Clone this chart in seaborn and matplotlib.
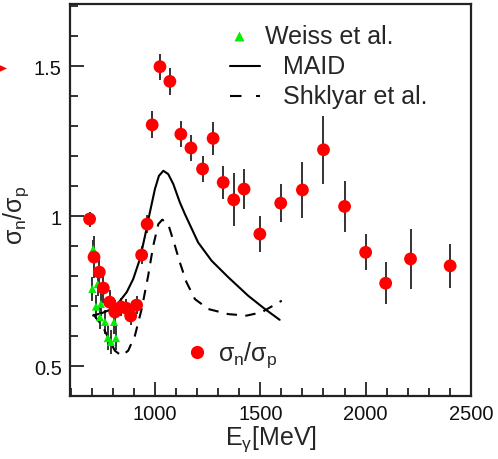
import matplotlib
matplotlib.use("Agg")
import matplotlib.pyplot as plt
from matplotlib.lines import Line2D
from matplotlib.patches import Polygon
from matplotlib.ticker import MultipleLocator, FixedLocator
import seaborn as sns
import pandas as pd

# sigma_n / sigma_p ratio (this work)
ratio_E = [690, 711, 736, 755, 785, 810, 839, 863, 885, 913, 937, 963,
           987, 1024, 1071, 1123, 1171, 1226, 1276, 1324, 1374, 1423, 1498,
           1597, 1700, 1800, 1900, 2000, 2095, 2213, 2401]
ratio_val = [0.99, 0.863, 0.813, 0.76, 0.713, 0.68, 0.697, 0.693, 0.667, 0.703, 0.87, 0.973,
             1.304, 1.498, 1.449, 1.273, 1.227, 1.157, 1.259, 1.112, 1.054, 1.09, 0.94,
             1.043, 1.087, 1.221, 1.032, 0.879, 0.776, 0.857, 0.834]
ratio_err = [0.025, 0.07, 0.05, 0.05, 0.04, 0.04, 0.03, 0.03, 0.03, 0.03, 0.03, 0.03,
             0.045, 0.043, 0.044, 0.043, 0.042, 0.043, 0.054, 0.056, 0.088, 0.068, 0.06,
             0.064, 0.093, 0.114, 0.086, 0.06, 0.07, 0.1, 0.073]

# Weiss et al.
weiss_E = [707, 703, 728, 720, 744, 739, 763, 776, 791, 806, 815]
weiss_val = [0.89, 0.757, 0.773, 0.698, 0.707, 0.663, 0.647, 0.593, 0.58, 0.647, 0.593]
weiss_err = [0.03, 0.04, 0.04, 0.04, 0.04, 0.04, 0.04, 0.04, 0.04, 0.04, 0.04]

# MAID prediction
maid_E = [707, 750, 797, 826, 866, 897, 929, 953, 976, 1000, 1019, 1040, 1063,
          1087, 1118, 1142, 1205, 1269, 1348, 1443, 1522, 1592]
maid_val = [0.668, 0.677, 0.69, 0.71, 0.746, 0.79, 0.857, 0.934, 1.012, 1.09, 1.134, 1.151,
            1.14, 1.107, 1.046, 1.007, 0.912, 0.851, 0.796, 0.734, 0.69, 0.654]

# Shklyar et al. prediction
shk_E = [707, 750, 782, 810, 842, 873, 905, 937, 968, 992, 1016, 1035, 1063,
         1095, 1118, 1150, 1190, 1253, 1348, 1435, 1506, 1602]
shk_val = [0.673, 0.634, 0.59, 0.551, 0.534, 0.551, 0.601, 0.69, 0.801, 0.901, 0.973, 0.988,
           0.973, 0.901, 0.846, 0.779, 0.723, 0.69, 0.673, 0.668, 0.679, 0.718]

sns.set_style("ticks")
plt.rcParams["font.family"] = ["Liberation Sans", "DejaVu Sans"]
plt.rcParams["mathtext.fontset"] = "custom"
plt.rcParams["mathtext.rm"] = "Liberation Sans"
plt.rcParams["mathtext.it"] = "Liberation Sans"

fig = plt.figure(figsize=(4.98, 4.60), dpi=100)
ax = fig.add_axes([70 / 498, 63 / 460, 401 / 498, 392 / 460])

df_ratio = pd.DataFrame({"E": ratio_E, "r": ratio_val, "err": ratio_err})
df_weiss = pd.DataFrame({"E": weiss_E, "r": weiss_val, "err": weiss_err})
df_maid = pd.DataFrame({"E": maid_E, "r": maid_val})
df_shk = pd.DataFrame({"E": shk_E, "r": shk_val})

errc = "#333333"
ax.errorbar(df_weiss["E"], df_weiss["r"], yerr=df_weiss["err"], fmt="none",
            ecolor=errc, elinewidth=1.4, capsize=0, zorder=2)
ax.errorbar(df_ratio["E"], df_ratio["r"], yerr=df_ratio["err"], fmt="none",
            ecolor=errc, elinewidth=1.4, capsize=0, zorder=2)

sns.lineplot(data=df_maid, x="E", y="r", ax=ax, color="black", lw=1.5,
             sort=False, zorder=3)
sns.lineplot(data=df_shk, x="E", y="r", ax=ax, color="black", lw=1.5,
             sort=False, zorder=3)
ax.lines[-1].set_dashes([5, 4])

sns.scatterplot(data=df_weiss, x="E", y="r", ax=ax, marker="^", s=34,
                color="#00ee00", edgecolor="none", zorder=4)
sns.scatterplot(data=df_ratio, x="E", y="r", ax=ax, marker="o", s=85,
                color="#ff0000", edgecolor="none", zorder=5)

ax.set_xlim(597, 2500)
ax.set_ylim(0.4, 1.707)
ax.xaxis.set_major_locator(FixedLocator([1000, 1500, 2000, 2500]))
ax.xaxis.set_minor_locator(MultipleLocator(250))
ax.yaxis.set_major_locator(FixedLocator([0.5, 1.0, 1.5]))
ax.yaxis.set_minor_locator(MultipleLocator(0.1))
ax.set_xticklabels(["1000", "1500", "2000", "2500"])
ax.set_yticklabels(["0.5", "1", "1.5"])
ax.tick_params(which="both", direction="in", top=False, right=False,
               color="#222222", labelcolor="#111111", width=1.3)
ax.tick_params(which="major", length=10, labelsize=14.5, pad=6)
ax.tick_params(which="minor", length=5.5)
ax.minorticks_on()
for s in ax.spines.values():
    s.set_linewidth(1.6)
    s.set_color("#222222")
    s.set_visible(True)

ax.set_xlabel(r"E$_{\rm \gamma}$[MeV]", fontsize=18)
ax.xaxis.set_label_coords(0.5, -0.07)
ax.set_ylabel(r"$\sigma_{\rm n}/\sigma_{\rm p}$", fontsize=18)
ax.yaxis.set_label_coords(-0.097, 0.464)

# key
T = ax.transAxes
ax.add_line(Line2D([0.421], [0.918], transform=T, marker="^", ms=7,
                   color="#00ee00", mec="none", ls="none"))
ax.text(0.486, 0.918, "Weiss et al.", transform=T, fontsize=18, va="center")
ax.add_line(Line2D([0.399, 0.474], [0.842, 0.842], transform=T, color="black", lw=1.5))
ax.text(0.531, 0.842, "MAID", transform=T, fontsize=18, va="center")
ax.add_line(Line2D([0.399, 0.474], [0.765, 0.765], transform=T, color="black", lw=1.5,
                   dashes=[5.5, 7]))
ax.text(0.531, 0.765, "Shklyar et al.", transform=T, fontsize=18, va="center")
ax.add_line(Line2D([0.317], [0.112], transform=T, marker="o", ms=9.5,
                   color="#ff0000", mec="none", ls="none"))
ax.text(0.368, 0.107, r"$\sigma_{\rm n}/\sigma_{\rm p}$", transform=T, fontsize=18,
        va="center")

# small red pointer at the left margin
fig.add_artist(Polygon([[0, 0.856], [7 / 498, 0.849], [0, 0.842]], closed=True,
                       transform=fig.transFigure, color="#ff0000", lw=0))

fig.savefig("out.png", dpi=100)
